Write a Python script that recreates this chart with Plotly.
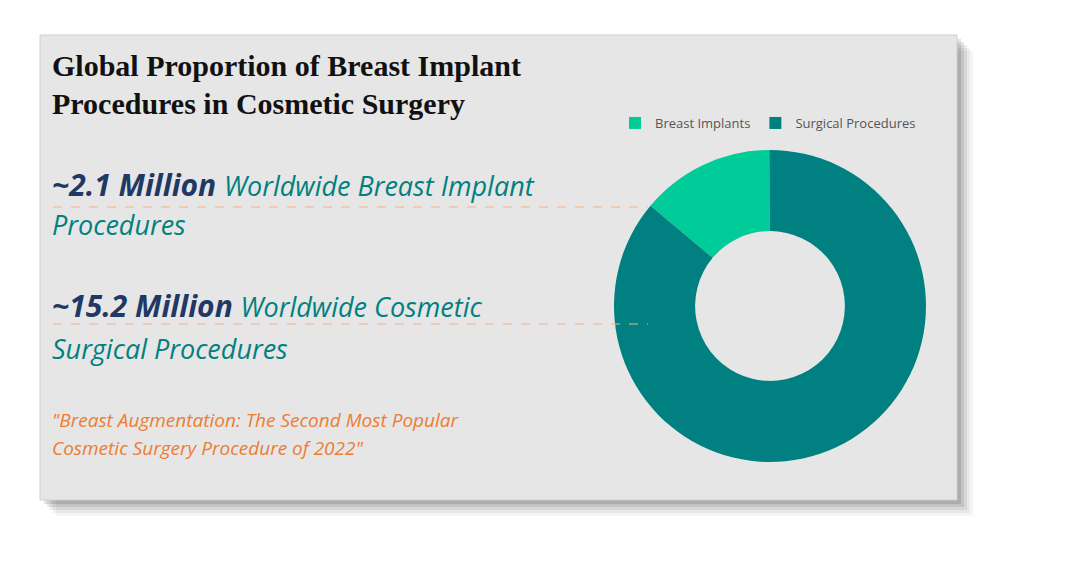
import plotly.graph_objects as go

labels = ["Breast Implants", "Surgical Procedures"]
values = [2.1, 13.1]
colors = ["#00CC99", "#008080"]

W, H = 1072, 567
OX, OY = -8, -8  # page body margin compensation
fig = go.Figure()

fig.add_trace(go.Pie(
    labels=labels, values=values, hole=0.48, sort=False,
    direction="clockwise", rotation=-50,
    marker=dict(colors=colors), textinfo="none",
    domain=dict(x=[(770 + OX - 156) / W, (770 + OX + 156) / W],
                y=[1 - (465 + OY) / H, 1 - (147 + OY) / H]),
    showlegend=True,
))

shapes = []
for i, a in enumerate([0.04, 0.05, 0.07, 0.09, 0.11]):
    o = 16 - i * 3
    shapes.append(dict(type="rect", xref="x", yref="y", x0=40 + OX + o, y0=35 + OY + o,
                       x1=957 + OX + o, y1=500 + OY + o, line_width=0,
                       fillcolor=f"rgba(0,0,0,{a})", layer="below"))
shapes.append(dict(type="rect", xref="x", yref="y", x0=40 + OX, y0=35 + OY, x1=957 + OX, y1=500 + OY,
                   line=dict(color="#d0d0d0", width=1), fillcolor="#E6E6E6", layer="below"))
for y in [207, 324]:
    shapes.append(dict(type="line", xref="x", yref="y", x0=53 + OX, x1=648 + OX, y0=y + OY, y1=y + OY,
                       line=dict(color="#F4B183", width=1, dash="dash")))

ann = []
def t(x, y, s, size, color, family):
    ann.append(dict(x=x + OX, y=y + OY, xref="x", yref="y", text=s, showarrow=False, xanchor="left",
                    yanchor="middle", align="left", font=dict(size=size, color=color, family=family)))

serif = "Liberation Serif"
sans = "Open Sans"
t(50, 65, "<b>Global Proportion of Breast Implant</b>", 30, "#111", serif)
t(50, 103, "<b>Procedures in Cosmetic Surgery</b>", 30, "#111", serif)
t(50, 184, "<b><i>~2.1 Million</i></b> <i><span style='font-size:27px;color:#008080'>Worldwide Breast Implant</span></i>", 30, "#1F3864", sans)
t(50, 224, "<i>Procedures</i>", 27, "#008080", sans)
t(50, 305, "<b><i>~15.2 Million</i></b> <i><span style='font-size:27px;color:#008080'>Worldwide Cosmetic</span></i>", 30, "#1F3864", sans)
t(50, 348, "<i>Surgical Procedures</i>", 27, "#008080", sans)
t(50, 420, "<i>\"Breast Augmentation: The Second Most Popular</i>", 19, "#ED7D31", sans)
t(50, 448, "<i>Cosmetic Surgery Procedure of 2022\"</i>", 19, "#ED7D31", sans)

fig.update_layout(
    width=W, height=H, margin=dict(l=0, r=0, t=0, b=0),
    paper_bgcolor="white", plot_bgcolor="white",
    xaxis=dict(range=[0, W], visible=False, fixedrange=True),
    yaxis=dict(range=[H, 0], visible=False, fixedrange=True),
    shapes=shapes, annotations=ann,
    legend=dict(orientation="h", x=(615 + OX) / W, y=1 - (123 + OY) / H, xanchor="left", yanchor="middle",
                font=dict(size=13, color="#555", family=sans), bgcolor="rgba(0,0,0,0)",
                itemwidth=30, tracegroupgap=0),
)

fig.write_html("out.html")
